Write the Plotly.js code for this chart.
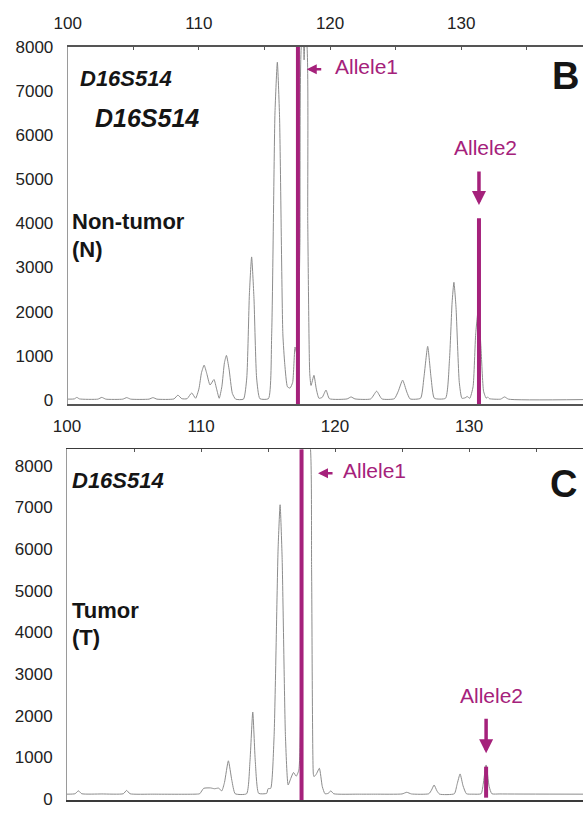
<!DOCTYPE html>
<html>
<head>
<meta charset="utf-8">
<script src="https://cdn.plot.ly/plotly-3.0.1.min.js"></script>
<style>html,body{margin:0;padding:0;background:#fff;}#chart{width:583px;height:817px;}</style>
</head>
<body>
<div id="chart"></div>
<script>
// ---- Data ----
// Panel B: Non-tumor (N) trace (size in bp, RFU)
const nonTumorSize = [100.0,100.5,100.7,100.9,102.3,102.6,102.9,104.2,104.5,104.8,106.2,106.5,106.8,108.1,108.4,108.7,109.1,109.45,109.75,
  110.0,110.2,110.4,110.6,110.85,111.15,111.35,111.55,111.75,111.95,112.1,112.3,112.55,112.8,
  113.4,113.65,113.85,114.02,114.2,114.4,114.65,115.3,115.55,115.8,115.98,116.15,116.4,116.55,116.75,116.95,117.15,117.33,117.5,117.7,
  117.85,117.95,118.02,118.1,118.2,118.3,118.45,118.55,118.77,118.95,119.15,119.4,119.69,119.95,
  121.3,121.6,121.9,123.1,123.55,123.95,124.9,125.2,125.53,125.85,126.1,126.9,127.15,127.44,127.7,127.95,
  128.8,129.1,129.3,129.44,129.6,129.85,130.05,130.3,130.45,130.65,130.9,131.1,131.3,131.5,131.7,131.9,132.0,132.15,133.0,133.3,133.6,139.3];
const nonTumorRFU = [20,25,60,25,20,60,20,20,55,20,20,55,20,25,110,30,30,160,40,
  250,620,790,600,340,465,250,40,300,850,1010,700,150,20,
  20,500,2400,3240,2300,500,30,30,1500,6500,7650,6400,1500,800,300,270,400,1200,1000,3500,
  8100,8100,7700,8100,8100,4000,600,330,560,250,40,60,225,30,
  25,70,25,25,200,25,30,200,450,180,25,40,500,1215,500,40,
  40,900,2200,2665,2100,400,40,50,80,40,300,1500,2050,1200,200,40,70,30,20,70,20,10];

// Panel C: Tumor (T) trace
const tumorSize = [100.0,100.6,100.85,101.1,102.6,104.2,104.45,104.7,106.4,109.55,109.9,110.2,110.7,111.0,111.3,111.55,111.75,112.04,112.3,112.55,
  113.4,113.65,113.86,114.05,114.3,114.9,115.0,115.2,115.45,115.75,115.9,116.05,116.3,116.5,116.7,116.9,117.1,117.3,117.5,117.62,
  118.0,118.12,118.25,118.38,118.43,118.6,118.83,119.05,119.25,119.5,119.68,119.9,
  121.7,123.0,125.0,125.35,125.7,127.0,127.2,127.39,127.6,127.8,128.9,129.1,129.33,129.55,129.8,
  130.3,130.9,131.05,131.27,131.5,131.7,132.3,138.5];
const tumorRFU = [120,130,200,130,125,130,210,130,120,120,130,260,270,250,265,200,400,920,450,130,
  130,900,2090,900,140,140,250,260,1500,6000,7060,5800,1500,340,500,640,550,700,5000,8500,
  8500,8500,5500,600,540,600,740,300,130,140,200,130,
  120,120,125,165,125,130,220,340,200,120,130,350,605,320,130,
  120,130,350,820,300,130,125,120];

// Allele markers (size in bp) and their vertical extent (RFU)
const allelesN = ["Allele1","Allele2"];
const alleleN_size = [117.55, 131.35];
const alleleN_top = [8000, 4114];
const alleleN_bottom = [-90, -90];
const alleleT_size = [117.5, 131.27];
const alleleT_top = [8390, 779];
const alleleT_bottom = [-20, 36];

// Axis ticks
const xTickVals = [100,105,110,115,120,125,130,135];
const xTickText = ["100","","110","","120","","130",""];
const yTickVals = [0,1000,2000,3000,4000,5000,6000,7000,8000];

// ---- Styling ----
const W = 583, H = 817;
const MAG = "#a5217b";
const GREY = "#8c8c8c";
const FONT = "Liberation Sans, Arial, Helvetica, sans-serif";
const px = v => v / W;
const py = v => 1 - v / H;

const traces = [
  {x: nonTumorSize, y: nonTumorRFU, xaxis: "x", yaxis: "y", mode: "lines",
   line: {color: GREY, width: 1, shape: "spline", smoothing: 0.5}, hoverinfo: "skip"},
  {x: tumorSize, y: tumorRFU, xaxis: "x2", yaxis: "y2", mode: "lines",
   line: {color: GREY, width: 1, shape: "spline", smoothing: 0.5}, hoverinfo: "skip"}
];
alleleN_size.forEach((s, i) => traces.push({
  x: [s, s], y: [alleleN_bottom[i], alleleN_top[i]], xaxis: "x", yaxis: "y",
  mode: "lines", line: {color: MAG, width: 4}, hoverinfo: "skip"}));
alleleT_size.forEach((s, i) => traces.push({
  x: [s, s], y: [alleleT_bottom[i], alleleT_top[i]], xaxis: "x2", yaxis: "y2",
  mode: "lines", line: {color: MAG, width: 4}, hoverinfo: "skip"}));

function xAx(domainStart, range, anchor, lineCol) {
  return {
    domain: [domainStart, 1], range: range, anchor: anchor, side: "top",
    tickmode: "array", tickvals: xTickVals, ticktext: xTickText,
    ticks: "inside", ticklen: 3, tickwidth: 1, tickcolor: "#555",
    showline: true, linecolor: lineCol, linewidth: 1.5, mirror: true,
    showgrid: false, zeroline: false, ticklabelstandoff: 9,
    tickfont: {family: FONT, size: 17, color: "#222"}
  };
}
function yAx(domain, range, anchor) {
  return {
    domain: domain, range: range, anchor: anchor,
    tickmode: "array", tickvals: yTickVals,
    ticks: "", showline: true, linecolor: "#9a9a9a", linewidth: 1,
    showgrid: false, zeroline: false, ticklabelstandoff: 10,
    tickfont: {family: FONT, size: 17, color: "#222"}
  };
}

function label(text, xPx, yPx, size, opts) {
  return Object.assign({
    text: text, xref: "paper", yref: "paper", x: px(xPx), y: py(yPx),
    xanchor: "left", yanchor: "middle", showarrow: false,
    font: {family: FONT, size: size, color: "#151515"}
  }, opts || {});
}
function arrow(xref, yref, x, y, ax, ay, w) {
  return {text: "", xref: xref, yref: yref, x: x, y: y, ax: ax, ay: ay,
    showarrow: true, arrowhead: 2, arrowsize: 0.8, arrowwidth: w, arrowcolor: MAG, standoff: 0};
}

const annotations = [
  // Panel B
  label("<b><i>D16S514</i></b>", 78, 78.5, 22),
  label("<b><i>D16S514</i></b>", 93, 117.5, 25),
  label("<b>Non-tumor</b>", 70, 221.5, 22),
  label("<b>(N)</b>", 70, 249.5, 22),
  label("<b>B</b>", 565, 76, 38, {xanchor: "center"}),
  label(allelesN[0], 333, 67, 21, {font: {family: FONT, size: 21, color: MAG}}),
  label(allelesN[1], 485, 147, 21, {xanchor: "center", font: {family: FONT, size: 21, color: MAG}}),
  arrow("x", "y", 118.22, 7487, 16, 0, 2.5),
  arrow("x", "y", alleleN_size[1], 4415, 0, -35, 3.5),
  // Panel C
  label("<b><i>D16S514</i></b>", 70, 480.5, 22),
  label("<b>Tumor</b>", 70, 610, 22),
  label("<b>(T)</b>", 70, 637, 22),
  label("<b>C</b>", 563, 484, 38, {xanchor: "center"}),
  label(allelesN[0], 341, 470.5, 21, {font: {family: FONT, size: 21, color: MAG}}),
  label(allelesN[1], 491.5, 695, 21, {xanchor: "center", font: {family: FONT, size: 21, color: MAG}}),
  arrow("x2", "y2", 118.73, 7815, 16, 0, 2.5),
  arrow("x2", "y2", alleleT_size[1], 1100, 0, -36, 3.5)
];

const layout = {
  width: W, height: H, margin: {l: 0, r: 0, t: 0, b: 0},
  paper_bgcolor: "#fff", plot_bgcolor: "#fff", showlegend: false,
  font: {family: FONT},
  xaxis: xAx(67.7 / W, [100, 139.28], "y", "#555"),
  yaxis: yAx([py(404), py(46.7)], [-90, 8000], "x"),
  xaxis2: xAx(67 / W, [100, 138.5], "y2", "#3a3a3a"),
  yaxis2: yAx([py(800), py(449.3)], [-20, 8390], "x2"),
  annotations: annotations
};

Plotly.newPlot("chart", traces, layout, {staticPlot: true, displayModeBar: false});
</script>
</body>
</html>
